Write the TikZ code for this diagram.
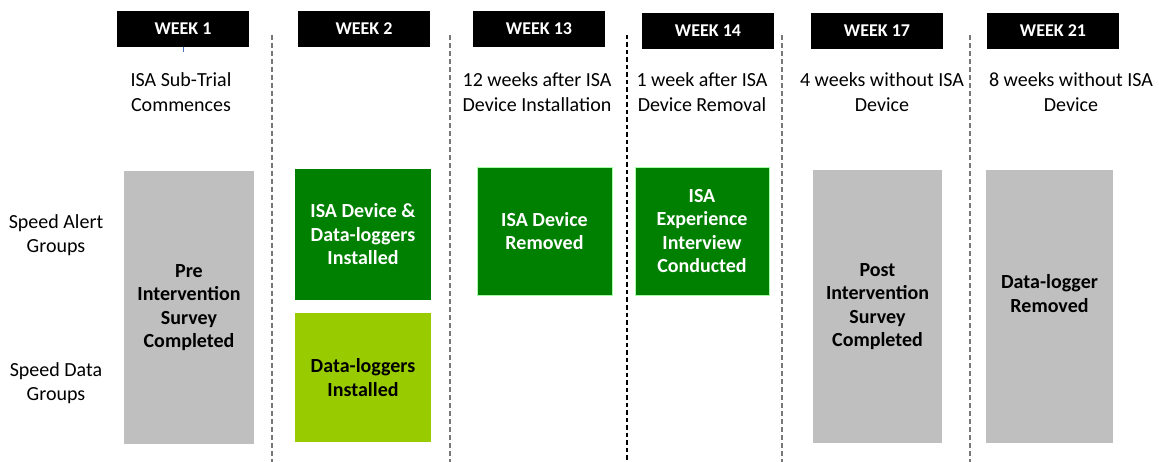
\documentclass[tikz,border=0pt]{standalone}
\usepackage{fontspec}
\setmainfont{Carlito}
\definecolor{dkgreen}{RGB}{0,128,0}
\definecolor{ltgreen}{RGB}{153,204,0}
\definecolor{boxgray}{RGB}{191,191,191}
\definecolor{divgray}{RGB}{120,120,120}
\definecolor{tickblue}{RGB}{68,114,196}
\tikzset{
  weekbox/.style={fill=black, text=white, inner sep=0pt,
    minimum width=132pt, minimum height=36pt,
    font=\fontsize{18}{20}\selectfont\bfseries},
  subtitle/.style={align=center, inner sep=0pt,
    font=\fontsize{20}{25}\selectfont},
  grouplabel/.style={align=center, inner sep=0pt,
    font=\fontsize{20}{24}\selectfont},
  stage/.style={align=center, inner sep=0pt,
    font=\fontsize{20}{23.5}\selectfont\bfseries},
  graystage/.style={stage, fill=boxgray, text=black},
  darkstage/.style={stage, fill=dkgreen, text=white},
  lightstage/.style={stage, fill=ltgreen, text=black},
  divider/.style={draw=divgray, line width=1.3pt, dash pattern=on 5pt off 3pt},
  blackdivider/.style={draw=black, line width=1.1pt, dash pattern=on 4.5pt off 3pt}
}
\begin{document}
\begin{tikzpicture}[x=1pt, y=-1pt]
\useasboundingbox (0,0) rectangle (1159,462);

% column dividers
\foreach \n/\x in {a/272, b/450, c/627, d/782, e/970} {
  \coordinate (top\n) at (\x,35);
  \coordinate (bot\n) at (\x,462);
}
\draw[divider] (topa) -- (bota);
\draw[divider] (topb) -- (botb);
\draw[blackdivider] (topc) -- (botc);
\draw[divider] (topd) -- (botd);
\draw[divider] (tope) -- (bote);

% week headers
\node[weekbox] (w1)  at (183,29)  {WEEK 1};
\node[weekbox] (w2)  at (364,29)  {WEEK 2};
\node[weekbox] (w13) at (539,29)  {WEEK 13};
\node[weekbox] (w14) at (708,31)  {WEEK 14};
\node[weekbox] (w17) at (877,31)  {WEEK 17};
\node[weekbox] (w21) at (1053,31) {WEEK 21};

\coordinate (w1tick) at (183,52);
\draw[tickblue, line width=0.8pt] (w1.south) -- (w1tick);

% milestone descriptions
\node[subtitle] (s1)  at (181,92)  {ISA Sub-Trial\\Commences};
\node[subtitle] (s13) at (537,92)  {12 weeks after ISA\\Device Installation};
\node[subtitle] (s14) at (702,92)  {1 week after ISA\\Device Removal};
\node[subtitle] (s17) at (882,92)  {4 weeks without ISA\\Device};
\node[subtitle] (s21) at (1071,92) {8 weeks without ISA\\Device};

% group labels
\node[grouplabel] (alert) at (56,235.5) {Speed Alert\\Groups};
\node[grouplabel] (data)  at (56,383.5) {Speed Data\\Groups};

% stage boxes
\node[graystage, minimum width=130pt, minimum height=273pt] (pre) at (189,307.5)
  {Pre\\Intervention\\Survey\\Completed};
\node[darkstage, minimum width=136pt, minimum height=131pt] (inst) at (363,234.5)
  {ISA Device \&\\Data-loggers\\Installed};
\node[lightstage, minimum width=136pt, minimum height=129pt] (dl) at (363,377.5)
  {Data-loggers\\Installed};
\node[darkstage, draw=green!35!white, line width=0.8pt,
  minimum width=135pt, minimum height=128pt] (rem) at (544.5,231)
  {ISA Device\\Removed};
\node[darkstage, draw=green!35!white, line width=0.8pt,
  minimum width=134pt, minimum height=128pt] (exp) at (702,231)
  {ISA\\Experience\\Interview\\Conducted};
\node[graystage, minimum width=129pt, minimum height=273pt] (post) at (877.5,306.5)
  {Post\\Intervention\\Survey\\Completed};
\node[graystage, minimum width=127pt, minimum height=273pt] (dlrem) at (1049.5,306.5) {};
\node[stage, text=black] (dlremtext) at ([yshift=13pt]dlrem.center)
  {Data-logger\\Removed};
\end{tikzpicture}
\end{document}
